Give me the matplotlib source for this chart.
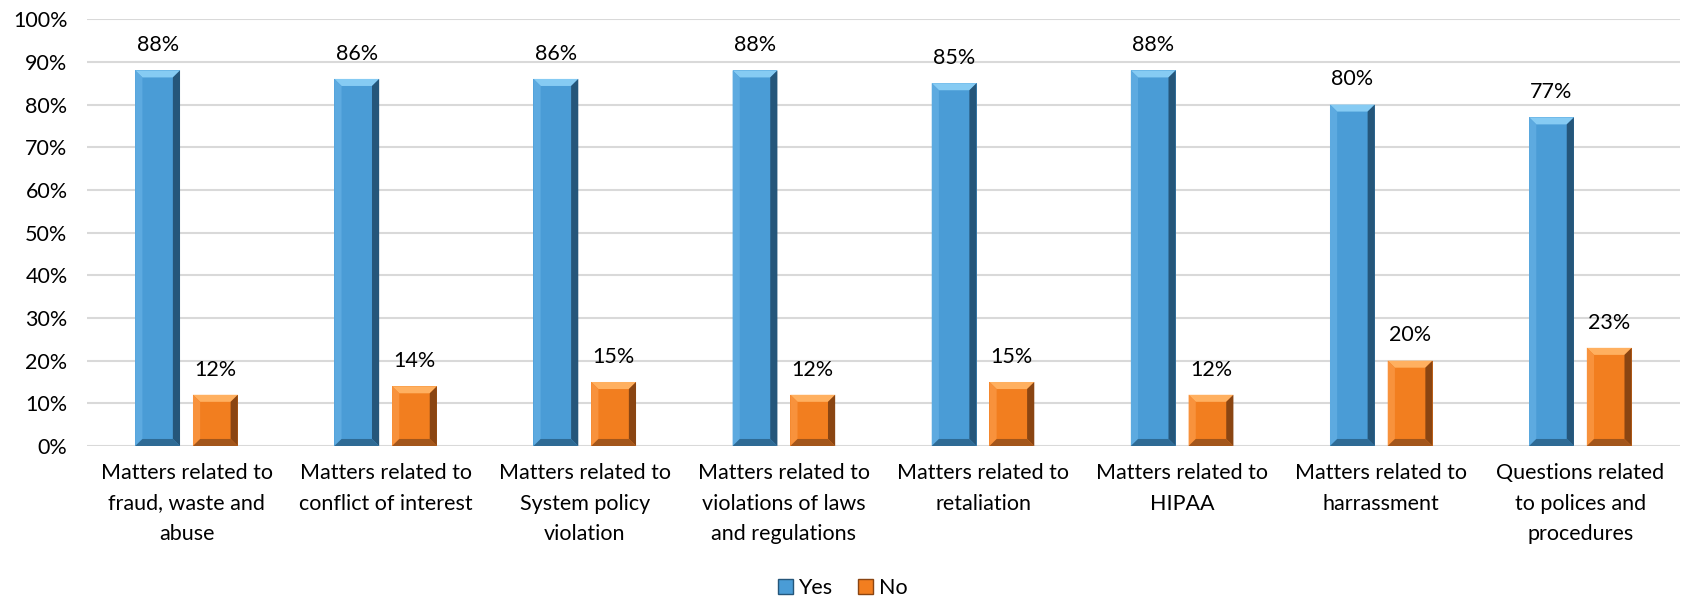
import numpy as np
import matplotlib
matplotlib.use("Agg")
import matplotlib.pyplot as plt
from matplotlib.patches import Polygon, Patch

plt.rcParams["font.family"] = ["Lato", "DejaVu Sans"]

# ── data ─────────────────────────────────────────────────────────────────────
categories = [
    "Matters related to\nfraud, waste and\nabuse",
    "Matters related to\nconflict of interest",
    "Matters related to\nSystem policy\nviolation",
    "Matters related to\nviolations of laws\nand regulations",
    "Matters related to\nretaliation",
    "Matters related to\nHIPAA",
    "Matters related to\nharrassment",
    "Questions related\nto polices and\nprocedures",
]
yes_vals = [88, 86, 86, 88, 85, 88, 80, 77]
no_vals = [12, 14, 15, 12, 15, 12, 20, 23]

# bevel palettes: face, top, left, right, bottom
BLUE = ["#4A9CD6", "#86CBF3", "#5DAAE0", "#25567A", "#2F6B95"]
ORANGE = ["#F27E1F", "#FFB060", "#F8923C", "#8A4512", "#A3561B"]

FS = 15.5

fig = plt.figure(figsize=(16.85, 5.99), dpi=100)
ax = fig.add_axes([0.0516, 0.2554, 0.9454, 0.7126])

x = np.arange(len(categories))
w = 0.225
off = 0.145
bars_yes = ax.bar(x - off, yes_vals, width=w, color=BLUE[0], zorder=3)
bars_no = ax.bar(x + off, no_vals, width=w, color=ORANGE[0], zorder=3)


def bevel(ax, bars, pal, dx=0.036, dy=1.65):
    for b in bars:
        x0, y0 = b.get_x(), b.get_y()
        x1, y1 = x0 + b.get_width(), y0 + b.get_height()
        ix0, ix1 = x0 + dx, x1 - dx
        iy0, iy1 = y0 + dy, y1 - dy
        pieces = [
            ([(x0, y1), (x1, y1), (ix1, iy1), (ix0, iy1)], pal[1]),
            ([(x0, y0), (x0, y1), (ix0, iy1), (ix0, iy0)], pal[2]),
            ([(x1, y0), (x1, y1), (ix1, iy1), (ix1, iy0)], pal[3]),
            ([(x0, y0), (x1, y0), (ix1, iy0), (ix0, iy0)], pal[4]),
        ]
        for pts, c in pieces:
            ax.add_patch(Polygon(pts, closed=True, facecolor=c, edgecolor="none", zorder=4))


bevel(ax, bars_yes, BLUE)
bevel(ax, bars_no, ORANGE)

ax.bar_label(bars_yes, labels=[f"{v}%" for v in yes_vals], padding=11, fontsize=FS, color="#000000")
ax.bar_label(bars_no, labels=[f"{v}%" for v in no_vals], padding=11, fontsize=FS, color="#000000")

ax.set_xlim(-0.5, len(categories) - 0.5)
ax.set_ylim(0, 100)
ax.set_yticks(np.arange(0, 101, 10))
ax.set_yticklabels([f"{v}%" for v in range(0, 101, 10)], fontsize=FS)
ax.set_xticks(x)
ax.set_xticklabels(categories, fontsize=FS, linespacing=1.68, va="top")
ax.tick_params(axis="both", length=0)
ax.tick_params(axis="y", pad=14)
ax.tick_params(axis="x", pad=12)
for s in ax.spines.values():
    s.set_visible(False)
ax.yaxis.grid(True, color="#D9D9D9", linewidth=1.5, zorder=0)
ax.set_axisbelow(True)

handles = [Patch(facecolor=BLUE[0], edgecolor=BLUE[3], label="Yes"),
           Patch(facecolor=ORANGE[0], edgecolor=ORANGE[3], label="No")]
fig.legend(handles=handles, loc="lower center", bbox_to_anchor=(0.5, -0.03), ncol=2,
           frameon=False, fontsize=FS, handlelength=0.7, handleheight=0.7,
           handletextpad=0.25, columnspacing=1.2)

fig.savefig("out.png", dpi=100, facecolor="white")
